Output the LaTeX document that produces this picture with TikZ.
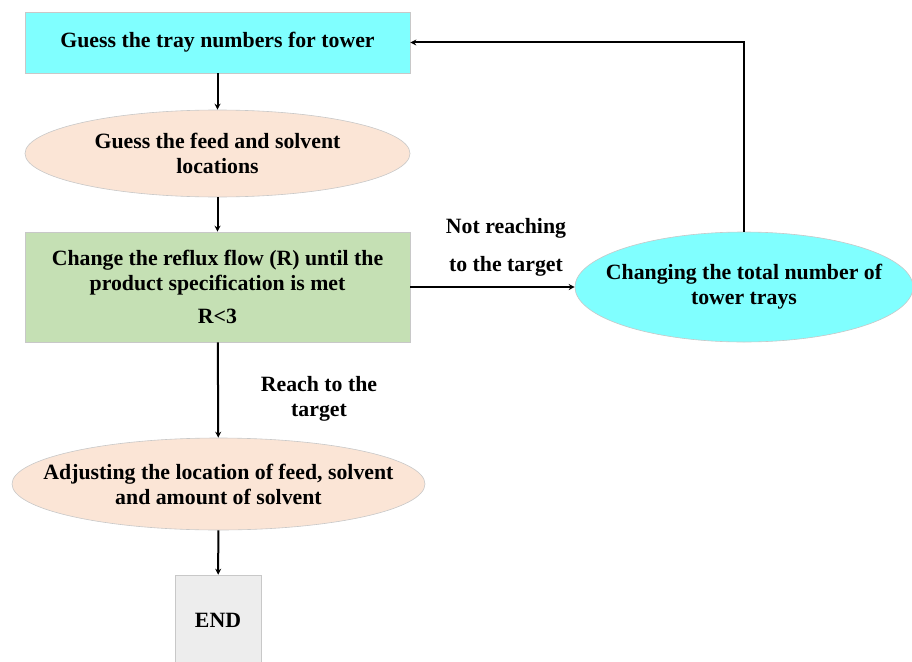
\documentclass[tikz,border=0pt]{standalone}
\usepackage{fontspec}
\setmainfont{Liberation Serif}
\usetikzlibrary{shapes.geometric,arrows.meta}
\definecolor{cyanfill}{HTML}{80FFFF}
\definecolor{peachfill}{HTML}{FBE5D6}
\definecolor{greenfill}{HTML}{C5E0B4}
\definecolor{grayfill}{HTML}{EDEDED}
\definecolor{edgegray}{HTML}{C8C8C8}
\tikzset{
  stepbox/.style={rectangle,draw=edgegray,line width=0.6pt,inner sep=0pt,align=center},
  stepoval/.style={ellipse,draw=edgegray,line width=0.6pt,inner sep=-150pt,align=center},
  flow/.style={line width=2pt,-{Stealth[length=6pt,width=6pt]}},
  note/.style={align=center,inner sep=0pt}
}
\begin{document}
\begin{tikzpicture}[x=1pt,y=-1pt,font=\fontsize{21.8}{25}\selectfont\bfseries]
  \useasboundingbox (0,0) rectangle (912,661);
  \node[stepbox,fill=cyanfill,minimum width=385pt,minimum height=61pt] (guess) at (217.5,42.5)
    {Guess the tray numbers for tower};
  \node[stepoval,fill=peachfill,minimum width=385pt,minimum height=87pt] (feed) at (217.5,153.5)
    {Guess the feed and solvent\\locations};
  \node[stepbox,fill=greenfill,minimum width=385pt,minimum height=110pt] (reflux) at (217.5,287)
    {Change the reflux flow (R) until the\\product specification is met\\[8pt]R<3};
  \node[stepoval,fill=cyanfill,minimum width=338pt,minimum height=110pt] (trays) at (744,287)
    {Changing the total number of\\tower trays};
  \node[stepoval,fill=peachfill,minimum width=413pt,minimum height=92pt] (adjust) at (218.5,484)
    {Adjusting the location of feed, solvent\\and amount of solvent};
  \node[stepbox,fill=grayfill,minimum width=86pt,minimum height=90pt] (end) at (218,620)
    {END};
  \node[note] (notlab) at (506,247) {Not reaching\\[13pt]to the target};
  \node[note] (reachlab) at (319,399) {Reach to the\\target};
  \begin{scope}[flow]
    \draw (guess) to (feed);
    \draw (feed) to (reflux);
    \draw (reflux) to (adjust);
    \draw (adjust) to (end);
    \draw (reflux.east) to (trays.west);
    \draw (trays.north) |- (guess.east);
  \end{scope}
\end{tikzpicture}
\end{document}
